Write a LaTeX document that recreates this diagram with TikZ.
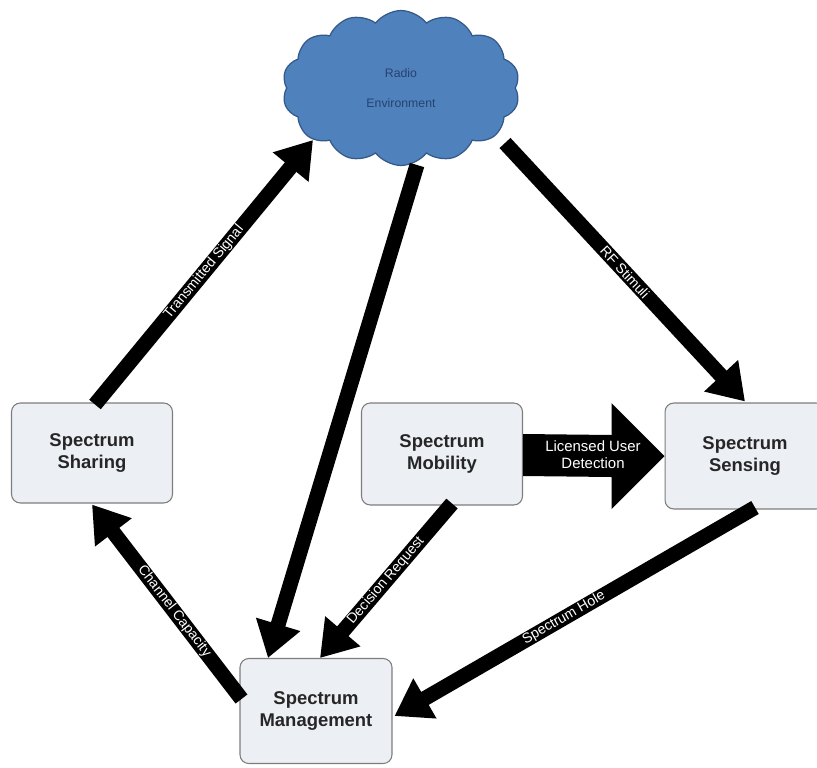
\documentclass[tikz,border=0pt]{standalone}
\usepackage{fontspec}
\setmainfont{Liberation Sans}
\usetikzlibrary{arrows.meta, positioning, calc, shapes.symbols}

\definecolor{boxfill}{RGB}{236,239,244}
\definecolor{boxline}{RGB}{125,125,125}
\definecolor{cloudfill}{RGB}{79,129,189}
\definecolor{cloudline}{RGB}{52,88,135}
\definecolor{cloudtext}{RGB}{38,66,112}

\begin{document}
\begin{tikzpicture}[x=0.02cm, y=-0.02cm, >=Stealth, line join=miter]
	%======================
	% STYLES
	%======================
	\tikzset{
		blockbox/.style={rounded corners=5pt, draw=boxline, fill=boxfill, line width=0.6pt,
			font=\fontsize{10.5}{12}\selectfont\bfseries, text=black!85, align=center},
		flow/.style={line width=8.5pt, -{Triangle[width=25pt, length=20pt]}},
		lbl/.style={font=\fontsize{8}{9}\selectfont, text=white},
		envcloud/.style={cloud, cloud puffs=14, cloud puff arc=105, aspect=1.55,
			draw=cloudline, fill=cloudfill, line width=0.7pt,
			minimum width=4.75cm, minimum height=3.1cm, inner sep=0pt,
			font=\fontsize{7}{17}\selectfont, text=cloudtext, align=center}
	}
	
	\useasboundingbox (0,0) rectangle (817,767);
	
	% cloud and blocks
	\node[envcloud] (env) at (401,88) {Radio\\Environment};
	\node[blockbox, minimum width=3.22cm, minimum height=2.0cm] (share) at (92,453) {Spectrum\\Sharing};
	\node[blockbox, minimum width=3.22cm, minimum height=2.04cm] (mob) at (442,454) {Spectrum\\Mobility};
	\node[blockbox, minimum width=3.2cm, minimum height=2.12cm] (sens) at (745,456) {Spectrum\\Sensing};
	\node[blockbox, minimum width=3.04cm, minimum height=2.1cm] (mgmt) at (316,711) {Spectrum\\Management};
	
	% points on the cloud
	\coordinate (tsTip)  at ($(env.center)+(-88,52)$);
	\coordinate (mgTail) at ($(env.center)+(16,77)$);
	\coordinate (rfTail) at ($(env.center)+(104,55)$);
	
	% connectors
	\draw[flow] ($(share.north)+(3,2)$) -- (tsTip)
		node[lbl, midway, sloped] {Transmitted Signal};
	\draw[flow] (mgTail) -- ($(mgmt.north)+(-48,0)$);
	\draw[flow] (rfTail) -- ($(sens.north)+(0,-1)$)
		node[lbl, midway, sloped] {RF Stimuli};
	\draw[flow] ($(mob.south)+(10,-2)$) -- ($(mgmt.north)+(4,0)$)
		node[lbl, midway, sloped] {Decision Request};
	\draw[flow] ($(sens.south)+(10,-2)$) -- ($(mgmt.east)+(2,5)$)
		node[lbl, pos=0.53, sloped] {Spectrum Hole};
	\draw[flow] ($(mgmt.west)+(2,-12)$) -- ($(share.south)+(0,1)$)
		node[lbl, pos=0.45, sloped] {Channel Capacity};
	
	% fat arrow mobility -> sensing
	\fill[black] ($(mob.east)+(0,-20)$) -- ($(sens.west)+(-53,-21)$) -- ($(sens.west)+(-53,-53)$)
		-- (sens.west) -- ($(sens.west)+(-53,53)$) -- ($(sens.west)+(-53,21)$)
		-- ($(mob.east)+(0,22)$) -- cycle;
	\node[lbl, align=center, font=\fontsize{8.5}{9.5}\selectfont] (lud) at ($(mob.east)+(70,1)$) {Licensed User\\Detection};
\end{tikzpicture}
\end{document}
